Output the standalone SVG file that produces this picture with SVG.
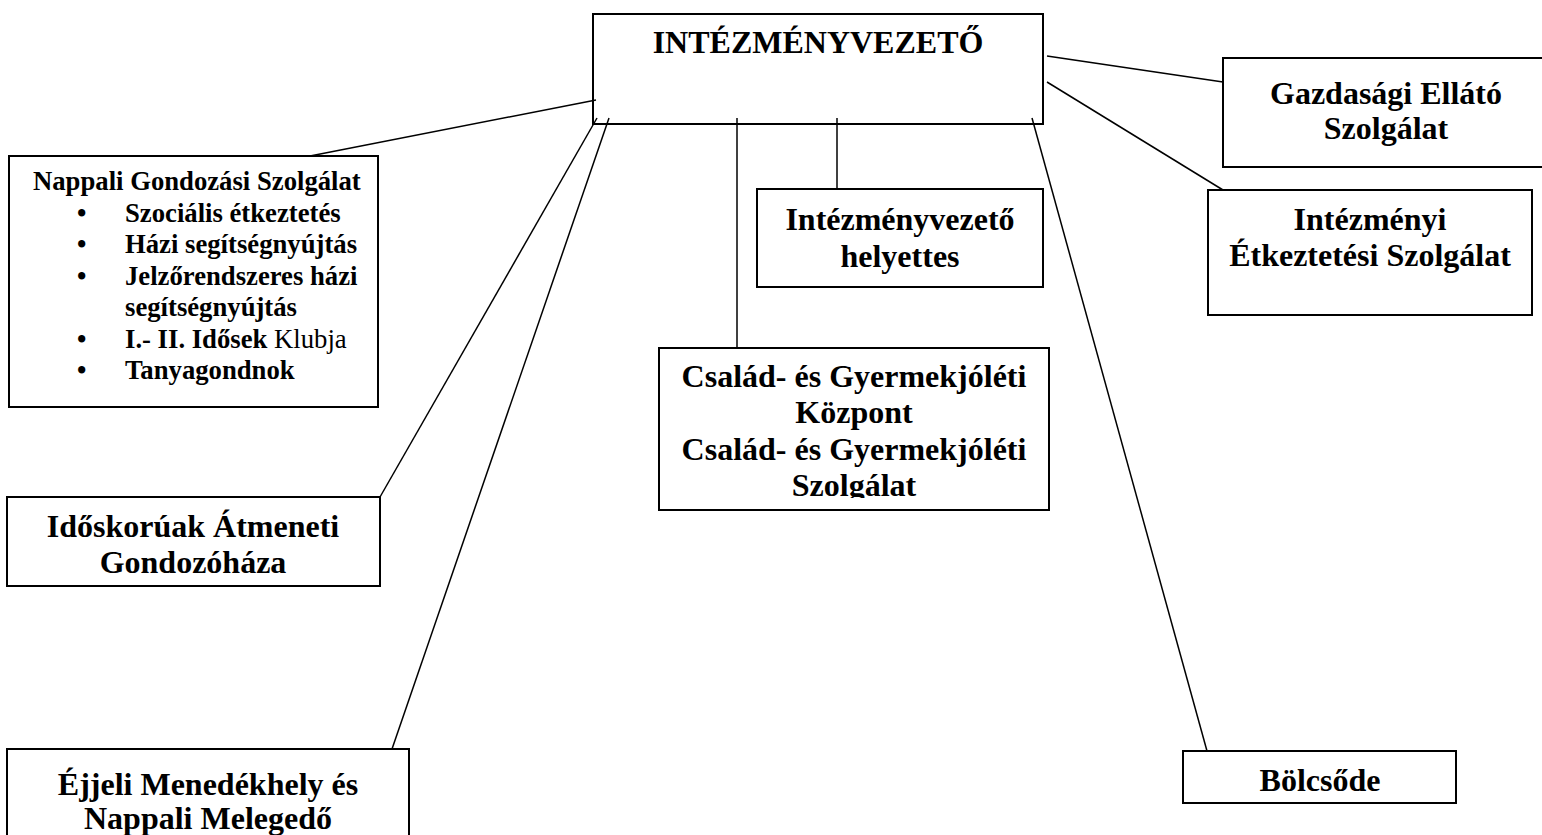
<svg xmlns="http://www.w3.org/2000/svg" width="1542" height="835" viewBox="0 0 1542 835">
<style>
.box{fill:#fff;stroke:#000;stroke-width:2}
.ln{stroke:#000;stroke-width:1.5;fill:none}
.t{font-family:"Liberation Serif","Times New Roman",serif;font-weight:bold;font-size:32px;fill:#000;text-anchor:middle}
.s{font-family:"Liberation Serif","Times New Roman",serif;font-weight:bold;font-size:26.7px;fill:#000}
.n{font-weight:normal}
</style>
<defs>
<clipPath id="cc"><rect x="659" y="348" width="390" height="150"/></clipPath>
</defs>
<rect width="1542" height="835" fill="#fff"/>
<g id="n-head">
<rect class="box" x="593" y="14" width="450" height="110"/>
<text class="t" x="818" y="53">INTÉZMÉNYVEZETŐ</text>
</g>
<g id="n-nappali">
<rect class="box" x="9" y="156" width="369" height="251"/>
<text class="s" x="33" y="190">Nappali Gondozási Szolgálat</text>
<text class="s" x="77" y="222">•</text><text class="s" x="125" y="222">Szociális étkeztetés</text>
<text class="s" x="77" y="253">•</text><text class="s" x="125" y="253">Házi segítségnyújtás</text>
<text class="s" x="77" y="285">•</text><text class="s" x="125" y="285">Jelzőrendszeres házi</text>
<text class="s" x="125" y="316">segítségnyújtás</text>
<text class="s" x="77" y="348">•</text><text class="s" x="125" y="348">I.- II. Idősek <tspan class="n">Klubja</tspan></text>
<text class="s" x="77" y="379">•</text><text class="s" x="125" y="379">Tanyagondnok</text>
</g>
<g id="n-idoskoruak">
<rect class="box" x="7" y="497" width="373" height="89"/>
<text class="t" x="193" y="537">Időskorúak Átmeneti</text>
<text class="t" x="193" y="573">Gondozóháza</text>
</g>
<g id="n-ejjeli">
<rect class="box" x="7" y="749" width="402" height="100"/>
<text class="t" x="208" y="795">Éjjeli Menedékhely és</text>
<text class="t" x="208" y="829">Nappali Melegedő</text>
</g>
<g id="n-helyettes">
<rect class="box" x="757" y="189" width="286" height="98"/>
<text class="t" x="900" y="230">Intézményvezető</text>
<text class="t" x="900" y="267">helyettes</text>
</g>
<g id="n-csaladi">
<rect class="box" x="659" y="348" width="390" height="162"/>
<g clip-path="url(#cc)">
<text class="t" x="854" y="387">Család- és Gyermekjóléti</text>
<text class="t" x="854" y="423">Központ</text>
<text class="t" x="854" y="460">Család- és Gyermekjóléti</text>
<text class="t" x="854" y="496">Szolgálat</text>
</g>
</g>
<g id="n-gazdasagi">
<rect class="box" x="1223" y="58" width="330" height="109"/>
<text class="t" x="1386" y="104">Gazdasági Ellátó</text>
<text class="t" x="1386" y="139">Szolgálat</text>
</g>
<g id="n-intezmenyi">
<rect class="box" x="1208" y="190" width="324" height="125"/>
<text class="t" x="1370" y="230">Intézményi</text>
<text class="t" x="1370" y="266">Étkeztetési Szolgálat</text>
</g>
<g id="n-bolcsode">
<rect class="box" x="1183" y="751" width="273" height="52"/>
<text class="t" x="1320" y="791">Bölcsőde</text>
</g>
<g id="connectors">
<line class="ln" x1="596" y1="100" x2="310" y2="156"/>
<line class="ln" x1="597" y1="118" x2="380" y2="497"/>
<line class="ln" x1="609" y1="118" x2="392" y2="749"/>
<line class="ln" x1="737" y1="118" x2="737" y2="348"/>
<line class="ln" x1="837" y1="118" x2="837" y2="189"/>
<line class="ln" x1="1032" y1="118" x2="1207" y2="751"/>
<line class="ln" x1="1047" y1="56" x2="1223" y2="82"/>
<line class="ln" x1="1047" y1="82" x2="1223" y2="190"/>
</g>
</svg>
